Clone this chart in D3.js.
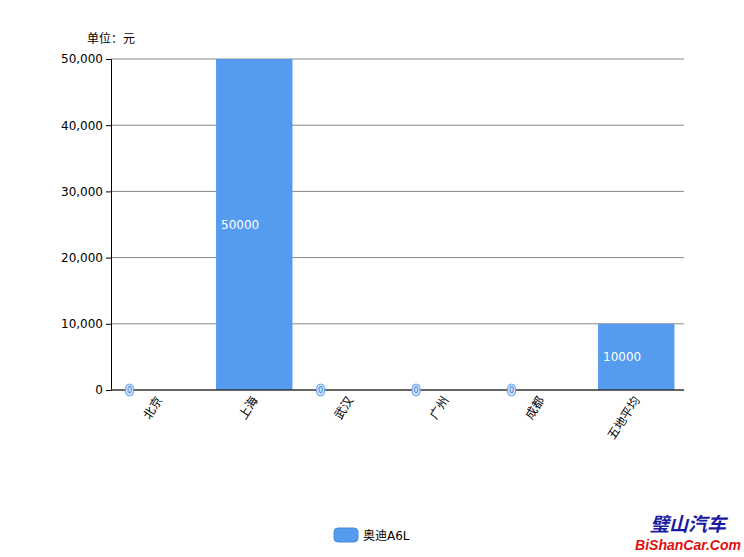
<!DOCTYPE html>
<html><head><meta charset="utf-8">
<script src="https://cdn.jsdelivr.net/npm/d3@7"></script>
<style>body{margin:0;background:#fff;} text{font-family:"DejaVu Sans","Noto Sans CJK SC",sans-serif;}</style>
</head><body>
<svg id="c" width="744" height="557"></svg>
<script>
const categories = ["北京", "上海", "武汉", "广州", "成都", "五地平均"];
const values = [0, 50000, 0, 0, 0, 10000];
const yTicks = [0, 10000, 20000, 30000, 40000, 50000];
const seriesName = "奥迪A6L";
const unitLabel = "单位：元";

const svg = d3.select("#c");
const m = {l: 111, r: 684, t: 59, b: 390};
const x = d3.scaleBand().domain(categories).range([m.l, m.r]).paddingInner(0.2).paddingOuter(0.1);
const y = d3.scaleLinear().domain([0, 50000]).range([m.b, m.t]);
const color = "#559cf0";

// grid
svg.append("g").selectAll("line").data(yTicks.slice(1)).join("line")
  .attr("x1", m.l).attr("x2", m.r).attr("y1", d => y(d)).attr("y2", d => y(d))
  .attr("stroke", "#888").attr("stroke-width", 1);

// bars
svg.append("g").selectAll("rect").data(values).join("rect")
  .attr("x", (d, i) => x(categories[i])).attr("width", x.bandwidth())
  .attr("y", d => y(d)).attr("height", d => y(0) - y(d))
  .attr("fill", color);

// y axis
const yAxis = svg.append("g").attr("transform", `translate(${m.l},0)`)
  .call(d3.axisLeft(y).tickValues(yTicks).tickFormat(d3.format(",")).tickSize(5).tickPadding(3));
yAxis.select(".domain").attr("stroke", "#000");
yAxis.selectAll(".tick line").attr("stroke", "#000");
yAxis.selectAll("text").attr("font-size", 12).attr("fill", "#000")
  .style("font-family", "'DejaVu Sans',sans-serif");

// x axis line
svg.append("line").attr("x1", m.l).attr("x2", m.r).attr("y1", y(0)).attr("y2", y(0))
  .attr("stroke", "#333").attr("stroke-width", 1.5);

// x labels
svg.append("g").selectAll("text").data(categories).join("text")
  .attr("transform", d => `translate(${x(d) + x.bandwidth()/2 + 4},${y(0) + 10}) rotate(-57)`)
  .attr("text-anchor", "end").attr("font-size", 12).attr("fill", "#000")
  .text(d => d);

// value labels
const lbl = svg.append("g");
values.forEach((v, i) => {
  const bx = x(categories[i]);
  if (v > 0) {
    lbl.append("text").attr("x", bx + 5).attr("y", (y(v) + y(0)) / 2 + 4)
      .attr("font-size", 12).attr("fill", "#fff").text(v);
  } else {
    const cx = bx + 9, cy = y(0);
    lbl.append("rect").attr("x", cx - 4).attr("y", cy - 6).attr("width", 8).attr("height", 12)
      .attr("rx", 4).attr("fill", "#c9defa").attr("stroke", "#6aa6f0").attr("stroke-width", 1);
    lbl.append("text").attr("x", cx).attr("y", cy + 3).attr("text-anchor", "middle")
      .attr("font-size", 8).attr("fill", "#3f7fd0").text(v);
  }
});

// unit
svg.append("text").attr("x", 87).attr("y", 43).attr("font-size", 12).attr("fill", "#000")
  .style("font-family", "'Noto Sans CJK SC',sans-serif").text(unitLabel);

// legend
svg.append("rect").attr("x", 334).attr("y", 528).attr("width", 24).attr("height", 14).attr("rx", 4)
  .attr("fill", color).attr("stroke", "#4a86d6").attr("stroke-width", 1);
svg.append("text").attr("x", 363).attr("y", 540).attr("font-size", 12).attr("fill", "#000")
  .text(seriesName);

// watermark
svg.append("text").attr("x", 688).attr("y", 531).attr("text-anchor", "middle").attr("font-size", 19)
  .attr("font-weight", "bold").attr("fill", "#1a1aa0").attr("font-style", "italic")
  .style("font-family", "'Noto Sans CJK SC',sans-serif").text("璧山汽车");
svg.append("text").attr("x", 688).attr("y", 550).attr("text-anchor", "middle").attr("font-size", 14)
  .attr("font-weight", "bold").attr("font-style", "italic").attr("fill", "#e01010")
  .attr("textLength", 106).attr("lengthAdjust", "spacingAndGlyphs")
  .style("font-family", "'Liberation Sans',sans-serif").text("BiShanCar.Com");
</script>
</body></html>
